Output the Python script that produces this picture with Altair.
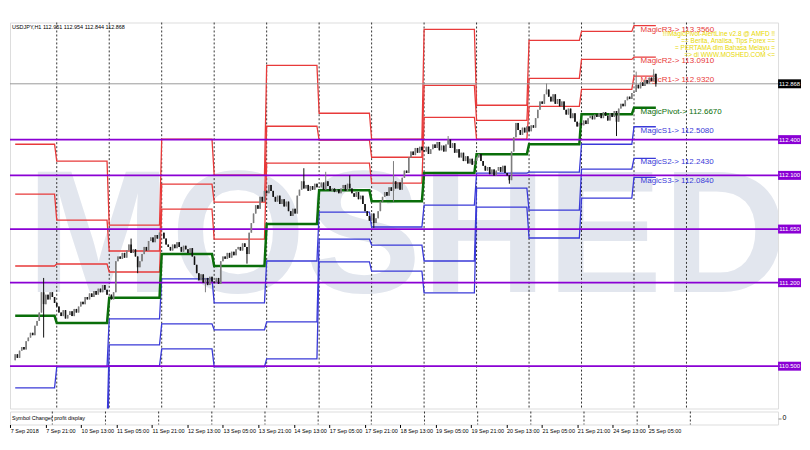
import json
import altair as alt
import pandas as pd

# ---------------- data ----------------
header_text = "USDJPY,H1  112.951 112.954 112.844 112.868"
banner_lines = ["!!!MagicPivot-AlertLine v2.8 @ AMFD !!",
                "== Berita, Analisa, Tips Forex ==",
                "= PERTAMA dlm Bahasa Melayu =",
                "=> di WWW.MOSHED.COM <="]
watermark_text = "MOSHED"
subwindow_name = "Symbol Changer profit display"

x_labels = ["7 Sep 2018", "7 Sep 21:00", "10 Sep 13:00", "11 Sep 05:00", "11 Sep 21:00",
            "12 Sep 13:00", "13 Sep 05:00", "13 Sep 21:00", "14 Sep 13:00", "17 Sep 05:00",
            "17 Sep 21:00", "18 Sep 13:00", "19 Sep 05:00", "19 Sep 21:00", "20 Sep 13:00",
            "21 Sep 05:00", "21 Sep 21:00", "24 Sep 13:00", "25 Sep 05:00"]
x_label_bars = [0, 16, 32, 48, 64, 80, 96, 112, 128, 144, 160, 176, 192, 208, 224, 240, 256, 272, 288]

y_ticks = [110.170, 110.325, 110.480, 110.635, 110.790, 110.945, 111.095, 111.250, 111.405,
           111.560, 111.715, 111.870, 112.025, 112.180, 112.335, 112.490, 112.645, 112.800,
           112.955, 113.110, 113.265]

# first bar of each trading day (H1 bars) and the daily period separators
day_start_bars = [0, 19, 43, 67, 91, 115, 139, 163, 187, 211, 235, 259, 283]
separator_bars = [19, 43, 67, 91, 115, 139, 163, 187, 211, 235, 259, 283, 307]
last_bar = 293

# daily pivot levels (7,10,11,12,13,14,17,18,19,20,21,24,25 Sep)
R3 = [112.361, 112.219, 111.683, 112.403, 112.102, 113.022, 112.621, 112.403, 113.324, 112.688, 113.232, 113.307, 113.356]
R2 = [111.943, 111.725, 111.466, 112.027, 111.876, 112.512, 112.395, 112.252, 112.855, 112.562, 112.914, 113.073, 113.091]
R1 = [111.340, 111.357, 111.290, 111.817, 111.566, 112.202, 112.202, 112.035, 112.587, 112.403, 112.679, 112.822, 112.932]
PV = [110.922, 110.863, 111.073, 111.441, 111.340, 111.692, 111.976, 111.884, 112.119, 112.278, 112.361, 112.612, 112.667]
S1 = [110.319, 110.495, 110.897, 111.232, 111.031, 111.382, 111.792, 111.667, 111.851, 112.119, 112.127, 112.361, 112.508]
S2 = [109.901, 110.001, 110.679, 110.855, 110.805, 110.872, 111.566, 111.516, 111.382, 111.993, 111.809, 112.152, 112.243]
S3 = [109.299, 109.633, 110.503, 110.646, 110.495, 110.562, 111.374, 111.298, 111.114, 111.834, 111.575, 111.909, 112.084]

# horizontal price levels (purple) and current bid
purple_levels = [112.400, 112.100, 111.650, 111.200, 110.500]
bid_price = 112.868

# hourly closes, one list per day
sep07 = [110.60, 110.57, 110.63, 110.66, 110.64, 110.71, 110.74, 110.78, 110.76, 110.84, 110.88, 110.95,
         111.12, 111.02, 111.10, 111.06, 111.12, 111.08, 111.03]
sep10 = [111.00, 110.95, 110.92, 110.97, 110.90, 110.93, 110.96, 110.92, 110.98, 110.95, 111.00, 111.04,
         111.02, 111.08, 111.06, 111.11, 111.08, 111.13, 111.10, 111.15, 111.12, 111.18, 111.14, 111.10]
sep11 = [111.10, 111.06, 111.12, 111.38, 111.42, 111.40, 111.45, 111.41, 111.47, 111.52, 111.45, 111.48,
         111.42, 111.33, 111.38, 111.44, 111.50, 111.47, 111.55, 111.58, 111.54, 111.60, 111.57, 111.62]
sep12 = [111.62, 111.57, 111.52, 111.50, 111.47, 111.52, 111.49, 111.54, 111.50, 111.46, 111.51, 111.48,
         111.45, 111.49, 111.42, 111.35, 111.28, 111.22, 111.27, 111.20, 111.24, 111.18, 111.25, 111.21]
sep13 = [111.20, 111.24, 111.19, 111.38, 111.42, 111.40, 111.45, 111.41, 111.46, 111.43, 111.48, 111.50,
         111.47, 111.53, 111.50, 111.44, 111.62, 111.70, 111.78, 111.85, 111.82, 111.92, 111.88, 111.97]
sep14 = [111.95, 112.02, 111.97, 111.92, 111.88, 111.93, 111.86, 111.90, 111.84, 111.88, 111.80, 111.76,
         111.82, 111.78, 111.93, 111.98, 112.05, 111.99, 112.02, 111.97, 112.01, 111.98, 112.03, 112.00]
sep17 = [112.00, 112.04, 111.98, 112.05, 112.01, 111.97, 111.99, 111.96, 111.98, 111.95, 111.99, 112.02,
         111.97, 112.03, 111.99, 111.95, 111.92, 111.96, 111.90, 111.93, 111.86, 111.80, 111.76, 111.72]
sep18 = [111.78, 111.70, 111.74, 111.80, 111.88, 111.92, 111.96, 111.93, 112.00, 111.97, 112.05, 111.99,
         112.04, 111.98, 112.08, 112.14, 112.12, 112.25, 112.30, 112.27, 112.33, 112.29, 112.34, 112.31]
sep19 = [112.30, 112.34, 112.28, 112.32, 112.36, 112.33, 112.38, 112.31, 112.35, 112.30, 112.36, 112.40,
         112.33, 112.37, 112.29, 112.32, 112.25, 112.29, 112.22, 112.26, 112.20, 112.24, 112.19, 112.22]
sep20 = [112.25, 112.28, 112.22, 112.18, 112.14, 112.17, 112.11, 112.15, 112.10, 112.14, 112.17, 112.13,
         112.18, 112.12, 112.10, 112.06, 112.30, 112.42, 112.54, 112.48, 112.44, 112.50, 112.46, 112.51]
sep21 = [112.47, 112.52, 112.50, 112.58, 112.65, 112.72, 112.70, 112.78, 112.82, 112.76, 112.72, 112.78,
         112.70, 112.74, 112.68, 112.72, 112.65, 112.61, 112.66, 112.58, 112.62, 112.55, 112.51, 112.54]
sep24 = [112.52, 112.56, 112.53, 112.58, 112.60, 112.57, 112.61, 112.59, 112.62, 112.58, 112.63, 112.60,
         112.56, 112.62, 112.59, 112.64, 112.55, 112.66, 112.70, 112.68, 112.73, 112.76, 112.74, 112.79]
sep25 = [112.80, 112.86, 112.83, 112.88, 112.85, 112.90, 112.87, 112.92, 112.89, 112.951, 112.868]
first_open = 110.55

# visible long wicks (bar -> price)
wick_high = {13: 111.24, 53: 111.57, 132: 112.16, 142: 112.13, 153: 112.10, 173: 112.22,
             198: 112.43, 243: 112.87, 284: 112.97, 292: 112.99, 293: 112.954}
wick_low = {13: 110.74, 56: 111.28, 87: 111.12, 106: 111.36, 164: 111.66, 173: 111.88,
            226: 112.03, 275: 112.43, 293: 112.844}

# ---------------- tables ----------------
closes = sep07 + sep10 + sep11 + sep12 + sep13 + sep14 + sep17 + sep18 + sep19 + sep20 + sep21 + sep24 + sep25
opens = [first_open] + closes[:-1]
rows = []
for i, (o, c) in enumerate(zip(opens, closes)):
    hi = max(o, c, wick_high.get(i, 0))
    lo = min(o, c, wick_low.get(i, 1e9))
    rows.append({"bar": i, "open": o, "close": c, "high": hi, "low": lo})
candles = pd.DataFrame(rows)

day_end_bars = [b - 1 for b in day_start_bars[1:]] + [last_bar]
lvl_rows = []
for name, grp, vals in [("R3", "R", R3), ("R2", "R", R2), ("R1", "R", R1), ("Pivot", "P", PV),
                        ("S1", "S", S1), ("S2", "S", S2), ("S3", "S", S3)]:
    for s, e, v in zip(day_start_bars, day_end_bars, vals):
        lvl_rows.append({"bar": s, "price": v, "level": name, "grp": grp})
        lvl_rows.append({"bar": e, "price": v, "level": name, "grp": grp})
levels = pd.DataFrame(lvl_rows)

label_df = pd.DataFrame({
    "bar": [day_start_bars[-1] + 3] * 7,
    "price": [R3[-1], R2[-1], R1[-1], PV[-1], S1[-1], S2[-1], S3[-1]],
    "name": ["R3", "R2", "R1", "Pivot", "S1", "S2", "S3"],
    "grp": ["R", "R", "R", "P", "S", "S", "S"],
})
label_df["txt"] = ["Magic" + n + "-> " + f"{p:.4f}" for n, p in zip(label_df["name"], label_df["price"])]

purple_df = pd.DataFrame({"price": purple_levels})
purple_df["txt"] = [f"{p:.3f}" for p in purple_levels]
bid_df = pd.DataFrame({"price": [bid_price], "txt": [f"{bid_price:.3f}"]})
sep_df = pd.DataFrame({"bar": separator_bars})

# ---------------- styling ----------------
W, H_MAIN, H_SUB = 770, 387, 13
xs = alt.Scale(domain=[-0.1, 346.6], nice=False, zero=False)
ys = alt.Scale(domain=[110.145, 113.382], nice=False, zero=False)
RED, GREEN, BLUE, PURPLE = "#e83a3a", "#0a6e0a", "#3a3ad8", "#8a00d4"
FONT = "Liberation Sans"
BOX = "M-1,-0.39L1,-0.39L1,0.39L-1,0.39Z"
BOX_X = W + 11.5
BOX_SIZE = 529

def X():
    return alt.X("bar:Q", scale=xs, axis=None)

def Y(f="price"):
    return alt.Y(f + ":Q", scale=ys, axis=None)

y_axis = alt.Axis(orient="right", values=y_ticks, format=".3f", tickSize=3, labelPadding=1,
                  domain=False, grid=False, labelFontSize=6, labelFont=FONT, labelColor="#000",
                  tickColor="#000", title=None, labelOverlap=False)

watermark = alt.Chart(pd.DataFrame({"t": [watermark_text]})).mark_text(
    font=FONT, fontSize=174, fontWeight="bold", color="#e2e6ee", align="center",
    baseline="alphabetic", clip=True
).encode(x=alt.value(398), y=alt.value(270), text="t:N")

seps = alt.Chart(sep_df).mark_rule(strokeDash=[2, 2], color="#333", strokeWidth=1).encode(x=X())

r_lines = alt.Chart(levels).transform_filter("datum.grp == 'R'").mark_line(
    clip=True, color=RED, strokeWidth=1.3).encode(x=X(), y=Y(), detail="level:N", order="bar:Q")
s_lines = alt.Chart(levels).transform_filter("datum.grp == 'S'").mark_line(
    clip=True, color=BLUE, strokeWidth=1.3).encode(x=X(), y=Y(), detail="level:N", order="bar:Q")
p_line = alt.Chart(levels).transform_filter("datum.grp == 'P'").mark_line(
    clip=True, color=GREEN, strokeWidth=2.5).encode(x=X(), y=Y(), order="bar:Q")

purple = alt.Chart(purple_df).mark_rule(color=PURPLE, strokeWidth=1.8).encode(
    y=alt.Y("price:Q", scale=ys, axis=y_axis))
bid = alt.Chart(bid_df).mark_rule(color="#9a9a9a", strokeWidth=1).encode(y=Y())

labels = alt.Chart(label_df).mark_text(align="left", baseline="top", fontSize=8, font=FONT).encode(
    x=X(), y=Y(), text="txt:N",
    color=alt.Color("grp:N", scale=alt.Scale(domain=["R", "P", "S"], range=[RED, GREEN, BLUE]), legend=None))

candle_color = alt.condition("datum.close >= datum.open", alt.value("#7d7d7d"), alt.value("#111111"))
wicks = alt.Chart(candles).mark_rule(strokeWidth=1).encode(x=X(), y=Y("low"), y2="high", color=candle_color)
bodies = alt.Chart(candles).mark_bar(size=1.6).encode(x=X(), y=Y("open"), y2="close", color=candle_color)

banner = alt.Chart(pd.DataFrame({"k": [0]})).mark_text(
    text=banner_lines, align="right", baseline="top", fontSize=6.5, lineHeight=7,
    font=FONT, color="#e8d800").encode(x=alt.value(W - 3), y=alt.value(9))
header = alt.Chart(pd.DataFrame({"t": [header_text]})).mark_text(
    align="left", baseline="top", fontSize=5.5, font=FONT, color="#000").encode(
    x=alt.value(2), y=alt.value(3), text="t:N")

purple_box = alt.Chart(purple_df).mark_point(shape=BOX, size=BOX_SIZE, filled=True, opacity=1,
                                             color=PURPLE, strokeWidth=0).encode(x=alt.value(BOX_X), y=Y())
purple_txt = alt.Chart(purple_df).mark_text(fontSize=6, font=FONT, color="white").encode(
    x=alt.value(BOX_X), y=Y(), text="txt:N")
bid_box = alt.Chart(bid_df).mark_point(shape=BOX, size=BOX_SIZE, filled=True, opacity=1,
                                       color="#000", strokeWidth=0).encode(x=alt.value(BOX_X), y=Y())
bid_txt = alt.Chart(bid_df).mark_text(fontSize=6, font=FONT, color="white").encode(
    x=alt.value(BOX_X), y=Y(), text="txt:N")

main = alt.layer(watermark, seps, r_lines, s_lines, p_line, purple, bid, labels, wicks, bodies,
                 banner, header, purple_box, purple_txt, bid_box, bid_txt).properties(width=W, height=H_MAIN)

# ---------------- sub window ----------------
label_expr = json.dumps(x_labels) + "[indexof(" + json.dumps(x_label_bars) + ", datum.value)]"
x_axis = alt.Axis(values=x_label_bars, labelExpr=label_expr, labelAlign="left", labelFontSize=5.5,
                  labelFont=FONT, labelColor="#000", tickSize=3, tickColor="#000", labelPadding=1,
                  domain=False, grid=False, title=None, labelOverlap=False, labelFlush=False)
sub_seps = alt.Chart(sep_df).mark_rule(strokeDash=[2, 2], color="#333", strokeWidth=1).encode(
    x=alt.X("bar:Q", scale=xs, axis=x_axis))
sub_zero = alt.Chart(pd.DataFrame({"v": [0]})).mark_point(opacity=0).encode(
    y=alt.Y("v:Q", scale=alt.Scale(domain=[-1, 1]),
            axis=alt.Axis(orient="right", values=[0], format="d", tickSize=3, labelPadding=1,
                          domain=False, grid=False, labelFontSize=7, labelFont=FONT,
                          labelColor="#000", title=None)))
sub_txt = alt.Chart(pd.DataFrame({"t": [subwindow_name]})).mark_text(
    align="left", baseline="middle", fontSize=5.5, font=FONT, color="#000").encode(
    x=alt.value(2), y=alt.value(6.5), text="t:N")
sub = alt.layer(sub_seps, sub_zero, sub_txt).properties(width=W, height=H_SUB)

chart = alt.vconcat(main, sub, spacing=1).properties(
    padding={"left": 0, "top": 13, "right": 0, "bottom": 0}
).configure_view(stroke="#555", strokeWidth=1).configure(background="white")

chart.save("out.html", embed_options={"renderer": "svg", "actions": False})
